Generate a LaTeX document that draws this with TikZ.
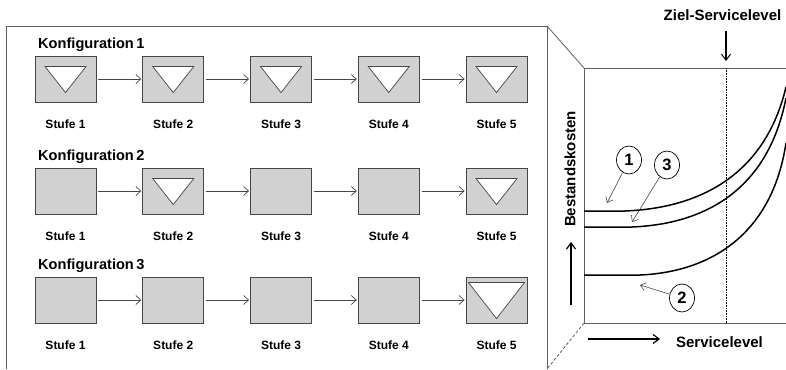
\documentclass[tikz,border=0pt]{standalone}
\usepackage{fontspec}
\setmainfont{Liberation Sans}
\usetikzlibrary{arrows.meta,calc,shapes.geometric}

\definecolor{boxfill}{RGB}{209,209,209}
\definecolor{edgegray}{RGB}{70,70,70}
\definecolor{framegray}{RGB}{95,95,95}

\tikzset{
  stage/.style={draw=edgegray, fill=boxfill, line width=0.9pt,
                minimum width=61pt, minimum height=46pt, inner sep=0pt},
  tri/.style={draw=edgegray, fill=white, line width=0.7pt, line join=miter},
  flow/.style={draw=edgegray, line width=0.7pt,
               -{Straight Barb[length=5pt,width=9pt,line width=0.7pt]}},
  stlabel/.style={font=\bfseries\fontsize{12}{14}\selectfont, inner sep=0pt},
  cfglabel/.style={font=\bfseries\fontsize{14.6}{16}\selectfont, anchor=west, inner sep=0pt},
  axislabel/.style={font=\bfseries\fontsize{15}{17}\selectfont, inner sep=0pt},
  frameline/.style={draw=framegray, line width=0.8pt},
  curve/.style={draw=black, line width=1.5pt},
  num/.style={draw=black, ellipse, line width=0.7pt, minimum width=25pt,
              minimum height=28pt, inner sep=0pt,
              font=\bfseries\fontsize{16.5}{18}\selectfont},
  callout/.style={draw=edgegray, line width=0.6pt,
                  -{Straight Barb[length=5pt,width=8pt,line width=0.6pt]}},
  bigarrow/.style={draw=black, line width=1.4pt,
                   -{Straight Barb[length=6pt,width=9pt,line width=1.2pt]}},
}

\begin{document}
\begin{tikzpicture}[x=1pt,y=-1pt]
\useasboundingbox (0,0) rectangle (786,369);

% outer frame of the configuration panel
\draw[frameline] (6,369) -- (6,26) -- (547,26) -- (547,369);

% three configurations, five stages each
\foreach \r/\yc in {1/79, 2/191, 3/300}{
  \node[cfglabel] (cfg\r) at (38,\yc-34) {Konfiguration\,\r};
  \foreach \s in {1,...,5}{
    \node[stage] (k\r s\s) at ({65.5+107.75*(\s-1)},\yc) {};
    \node[stlabel] (lab\r s\s) at ({65.5+107.75*(\s-1)},\yc+45) {Stufe \s};
  }
  \foreach \s/\t in {1/2, 2/3, 3/4, 4/5}{
    \draw[flow] ($(k\r s\s.east)+(2,0)$) -- ($(k\r s\t.west)+(-1,0)$);
  }
}

% buffer stocks (triangles)
\foreach \b in {k1s1,k1s2,k1s3,k1s4,k1s5,k2s2,k2s5}{
  \draw[tri] ($(\b.north)+(-20.5,11)$) -- ($(\b.north)+(20.5,11)$)
             -- ($(\b.north)+(0,37)$) -- cycle;
}
\draw[tri] ($(k3s5.north)+(-28,6)$) -- ($(k3s5.north)+(28,6)$)
           -- ($(k3s5.north)+(0,42)$) -- cycle;

% perspective edges towards the chart
\draw[frameline] (547,26) -- (584,68);
\draw[frameline, densely dashed] (584,323) -- (547,369);

% chart axes
\draw[frameline] (786,68) -- (584,68) -- (584,323) -- (786,323);

% target service level
\node[axislabel] (ziel) at (722.5,15) {Ziel-Servicelevel};
\coordinate (zielTop) at (726,68);
\coordinate (zielBot) at (726,323);
\draw[black, line width=0.6pt, densely dotted] (zielTop) -- (zielBot);
\coordinate (zielArrowStart) at (726,31);
\draw[black, line width=1.1pt, -{Straight Barb[length=6pt,width=9pt,line width=1pt]}]
  (zielArrowStart) -- (726,61);

% cost curves
\draw[curve] (584,211) -- (625,211) .. controls (700,208) and (765,175) .. (786,87);
\draw[curve] (584,227) -- (632,227) .. controls (705,224) and (768,190) .. (786,98);
\draw[curve] (584,275) -- (640,275) .. controls (710,272) and (772,235) .. (786,143);

% curve markers
\node[num] (c1) at (629,160) {1};
\node[num] (c3) at (667,165) {3};
\node[num] (c2) at (682,298) {2};
\coordinate (p1) at (607,203);
\coordinate (p3) at (632,222);
\coordinate (p2) at (640,285);
\draw[callout] (c1) -- (p1);
\draw[callout] (c3) -- (p3);
\draw[callout] (c2) -- (p2);

% axis labels
\node[axislabel, rotate=90] (ylab) at (570,169) {Bestandskosten};
\coordinate (yArrowStart) at (571,305);
\coordinate (yArrowEnd) at (571,242);
\draw[bigarrow] (yArrowStart) -- (yArrowEnd);

\node[axislabel] (xlab) at (719.5,342) {Servicelevel};
\coordinate (xArrowStart) at (588,339);
\coordinate (xArrowEnd) at (660,339);
\draw[bigarrow] (xArrowStart) -- (xArrowEnd);
\end{tikzpicture}
\end{document}
